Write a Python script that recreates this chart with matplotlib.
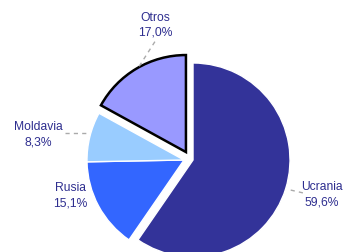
import matplotlib
matplotlib.use('Agg')
import matplotlib.pyplot as plt

# data
paises = ['Ucrania', 'Rusia', 'Moldavia', 'Otros']
cuotas = [59.6, 15.1, 8.3, 17.0]
colores = ['#333399', '#3366FF', '#99CCFF', '#9999FF']

# layout: wedge shift (in radius units), label spot, leader line
desplaz = {'Ucrania': (0.093, 0.0), 'Otros': (0.02, 0.082)}
pos_txt = {'Ucrania': (1.42, -0.36), 'Rusia': (-1.175, -0.37),
		   'Moldavia': (-1.505, 0.26), 'Otros': (-0.30, 1.39)}
guias = {'Ucrania': ((1.10, 1.23), (-0.31, -0.34)),
		 'Moldavia': ((-1.23, -0.99), (0.28, 0.28)),
		 'Otros': ((-0.30, -0.485), (1.22, 0.93))}

plt.rcParams['font.family'] = ['Liberation Sans', 'DejaVu Sans']

fig = plt.figure(figsize=(3.45, 2.52), dpi=100)
ax = fig.add_axes([87/345, -5/252, 194/345, 194/252])

wedges, _ = ax.pie(cuotas, colors=colores, startangle=90, counterclock=False,
				   wedgeprops=dict(edgecolor='white', linewidth=1.0))

for w, p in zip(wedges, paises):
	w.set_clip_on(False)
	if p in desplaz:
		w.set_center(desplaz[p])
	if p == 'Otros':
		w.set_edgecolor('black')
		w.set_linewidth(1.8)

for p, v in zip(paises, cuotas):
	x, y = pos_txt[p]
	txt = '%s\n%s%%' % (p, ('%.1f' % v).replace('.', ','))
	ax.text(x, y, txt, ha='center', va='center', fontsize=8.7,
			color='#2E2E8F', linespacing=1.35)
	if p in guias:
		xs, ys = guias[p]
		ax.plot(xs, ys, color='#AAAAAA', lw=1, ls=(0, (3, 3)), clip_on=False)

ax.set_xlim(-1, 1)
ax.set_ylim(-1, 1)
ax.set_aspect('equal')
ax.axis('off')

fig.savefig('out.png', dpi=100)
